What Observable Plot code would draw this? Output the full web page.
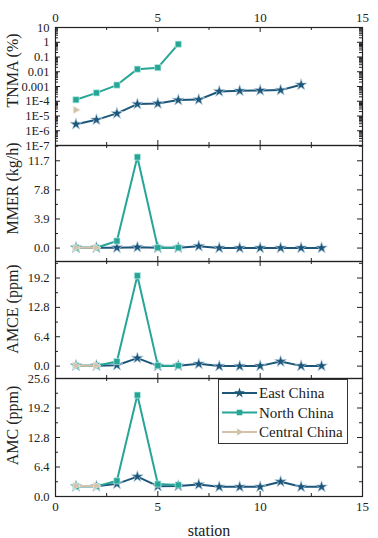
<!DOCTYPE html>
<html><head><meta charset="utf-8">
<script src="https://cdn.jsdelivr.net/npm/d3@7"></script>
<script src="https://cdn.jsdelivr.net/npm/@observablehq/plot@0.6"></script>
<style>
body{margin:0;background:#fff}
#chart{position:relative;width:378px;height:538px;overflow:hidden}
#chart svg{display:block;overflow:visible}
#chart svg, #chart svg text{font-family:"Liberation Serif","Times New Roman",serif !important}
#legend{position:absolute;left:218px;top:379px}
</style></head><body><div id="chart"></div>
<script>
// ---------- data ----------
const seriesNames = ["East China", "North China", "Central China"];
const seriesColors = ["#1c567a", "#27a597", "#d4c1aa"];

const stationsEast = [1, 2, 3, 4, 5, 6, 7, 8, 9, 10, 11, 12, 13];
const stationsNorth = [1, 2, 3, 4, 5, 6];
const stationsCentral = [1, 2];

const tnmaEast = [2.8e-6, 5.5e-6, 1.5e-5, 6.4e-5, 7e-5, 1.2e-4, 1.3e-4, 4.6e-4, 5.1e-4, 5.4e-4, 5.7e-4, 1.3e-3];
const tnmaNorth = [1.26e-4, 3.7e-4, 1.25e-3, 0.015, 0.019, 0.74];
const tnmaCentral = [2.6e-5];

const mmerEast = [0.05, 0.05, 0.05, 0.12, 0.05, 0.05, 0.25, 0.02, 0.02, 0.02, 0.02, 0.02, 0.02];
const mmerNorth = [0.05, 0.05, 0.95, 12.2, 0.05, 0.05];
const mmerCentral = [0.05, 0.05];

const amceEast = [0.1, 0.1, 0.2, 1.75, 0.05, 0.1, 0.5, 0.0, 0.0, 0.05, 1.0, 0.05, 0.05];
const amceNorth = [0.1, 0.1, 1.0, 19.7, 0.1, 0.1];
const amceCentral = [0.1, 0.1];

const amcEast = [2.2, 2.2, 2.75, 4.3, 2.25, 2.3, 2.6, 2.1, 2.1, 2.1, 3.2, 2.1, 2.1];
const amcNorth = [2.2, 2.2, 3.4, 22.0, 2.7, 2.5];
const amcCentral = [2.3, 2.3];

const xTicks = [0, 5, 10, 15];
const xMinorTicks = [2.5, 7.5, 12.5];
const tnmaTicks = [10, 1, 0.1, 0.01, 0.001, 1e-4, 1e-5, 1e-6, 1e-7];
const tnmaTickLabels = ["10", "1", "0.1", "0.01", "0.001", "1E-4", "1E-5", "1E-6", "1E-7"];
const mmerTicks = [0, 3.9, 7.8, 11.7];
const amceTicks = [0, 6.4, 12.8, 19.2];
const amcTicks = [0, 6.4, 12.8, 19.2, 25.6];
const yLabels = ["TNMA (%)", "MMER (kg/h)", "AMCE (ppm)", "AMC (ppm)"];
const xLabel = "station";

// ---------- helpers ----------
const FONT = "'Liberation Serif', 'Times New Roman', serif";
const W = 378, ML = 55, MR = 16, PW = W - ML - MR;
const triRight = {
  draw(ctx, size) {
    const r = Math.sqrt(size / Math.PI);
    ctx.moveTo(r * 1.25, 0);
    ctx.lineTo(-r * 0.75, -r * 1.05);
    ctx.lineTo(-r * 0.75, r * 1.05);
    ctx.closePath();
  }
};
const symbols = ["star", "square", triRight];
const dotR = [3.7, 3.5, 3.6];
const halo = ["#bcd3e2", "#bfeee6", "#f2ebe3"];

function rows(xs, ys) { return ys.map((v, i) => ({station: xs[i], value: v})); }

function seriesMarks(sets) {
  const m = [];
  sets.forEach((d, i) => {
    m.push(Plot.line(d, {x: "station", y: "value", stroke: seriesColors[i], strokeWidth: 2}));
    m.push(Plot.dot(d, {x: "station", y: "value", symbol: symbols[i], r: dotR[i], fill: seriesColors[i], stroke: halo[i], strokeWidth: 0.7}));
  });
  return m;
}

function inwardTicks(yMajor, yMinor, PH) {
  const s = "#222";
  return [
    Plot.tickY(yMajor, {y: d => d, insetRight: PW - 5, stroke: s}),
    Plot.tickY(yMajor, {y: d => d, insetLeft: PW - 5, stroke: s}),
    Plot.tickY(yMinor, {y: d => d, insetRight: PW - 3, stroke: s}),
    Plot.tickY(yMinor, {y: d => d, insetLeft: PW - 3, stroke: s}),
    Plot.tickX(xTicks, {x: d => d, insetBottom: PH - 5, stroke: s}),
    Plot.tickX(xTicks, {x: d => d, insetTop: PH - 5, stroke: s}),
    Plot.tickX(xMinorTicks, {x: d => d, insetBottom: PH - 3, stroke: s}),
    Plot.tickX(xMinorTicks, {x: d => d, insetTop: PH - 3, stroke: s})
  ];
}

function panel({height, marginTop = 0, marginBottom = 0, type = "linear", domain, ticks, minor, fmt, label, labelDy, top = false, bottom = false, sets}) {
  const PH = height - marginTop - marginBottom;
  const marks = [
    ...seriesMarks(sets),
    Plot.frame({stroke: "#222", strokeWidth: 1.2}),
    ...inwardTicks(ticks, minor, PH),
    Plot.axisY(ticks, {anchor: "left", tickSize: 0, tickPadding: 6, tickFormat: fmt, label: null, fontSize: 12.5}),
    Plot.text([label], {frameAnchor: "left", text: d => d, rotate: -90, textAnchor: "middle", lineAnchor: "middle", dx: -43, dy: labelDy, fontSize: 16, fill: "#222"})
  ];
  if (top) marks.push(Plot.axisX(xTicks, {anchor: "top", tickSize: 0, tickPadding: 6, label: null, fontSize: 13}));
  if (bottom) {
    marks.push(Plot.axisX(xTicks, {anchor: "bottom", tickSize: 0, tickPadding: 5, label: null, fontSize: 13}));
    marks.push(Plot.text([xLabel], {frameAnchor: "bottom", text: d => d, dy: 34, lineAnchor: "middle", fontSize: 16, fill: "#222"}));
  }
  return Plot.plot({
    width: W, height, marginLeft: ML, marginRight: MR, marginTop, marginBottom,
    style: {fontFamily: FONT, fontSize: "13px", color: "#222", background: "none", overflow: "visible"},
    x: {domain: [0, 15], label: null, ...(top || bottom ? {} : {axis: null})},
    y: {type, domain, label: null},
    marks
  });
}

// minor ticks
const logMinor = [];
for (let e = -7; e < 1; e++) for (let k = 2; k <= 9; k++) logMinor.push(k * Math.pow(10, e));
function halfMinor(ticks, lo, hi) {
  const step = ticks[1] - ticks[0];
  const out = [];
  for (let v = ticks[0] - step / 2; v <= hi + 1e-9; v += step) if (v >= lo && !ticks.some(t => Math.abs(t - v) < 1e-9)) out.push(+v.toFixed(3));
  return out;
}

const chart = document.getElementById("chart");
const fmt1 = d3.format(".1f");

chart.append(panel({
  height: 145, marginTop: 27, type: "log", domain: [1e-7, 10],
  ticks: tnmaTicks, minor: logMinor, fmt: d => tnmaTickLabels[tnmaTicks.indexOf(d)],
  label: yLabels[0], labelDy: -16, top: true,
  sets: [rows(stationsEast, tnmaEast), rows(stationsNorth, tnmaNorth), rows(stationsCentral, tnmaCentral)]
}));
const d2 = [-1.8, 13.75];
chart.append(panel({
  height: 116, domain: d2, ticks: mmerTicks, minor: halfMinor(mmerTicks, d2[0], d2[1]), fmt: fmt1,
  label: yLabels[1], labelDy: -15,
  sets: [rows(stationsEast, mmerEast), rows(stationsNorth, mmerNorth), rows(stationsCentral, mmerCentral)]
}));
const d3d = [-2.7, 22.8];
chart.append(panel({
  height: 117, domain: d3d, ticks: amceTicks, minor: halfMinor(amceTicks, d3d[0], d3d[1]), fmt: fmt1,
  label: yLabels[2], labelDy: -11,
  sets: [rows(stationsEast, amceEast), rows(stationsNorth, amceNorth), rows(stationsCentral, amceCentral)]
}));
const d4 = [0, 25.6];
chart.append(panel({
  height: 160, marginBottom: 42, domain: d4, ticks: amcTicks, minor: halfMinor(amcTicks, d4[0], d4[1]), fmt: fmt1,
  label: yLabels[3], labelDy: -12, bottom: true,
  sets: [rows(stationsEast, amcEast), rows(stationsNorth, amcNorth), rows(stationsCentral, amcCentral)]
}));

// legend
const lg = d3.select(chart).append("svg").attr("id", "legend").attr("width", 131).attr("height", 66);
lg.append("rect").attr("x", 0.5).attr("y", 0.5).attr("width", 129).attr("height", 64).attr("fill", "white").attr("stroke", "#333").attr("stroke-width", 1);
const symObjs = [d3.symbolStar, d3.symbolSquare, triRight];
seriesNames.forEach((name, i) => {
  const cy = 14 + i * 19.5;
  lg.append("line").attr("x1", 4).attr("x2", 39).attr("y1", cy).attr("y2", cy).attr("stroke", seriesColors[i]).attr("stroke-width", 2);
  lg.append("path").attr("transform", `translate(21.5,${cy})`).attr("d", d3.symbol(symObjs[i], Math.PI * dotR[i] * dotR[i] * 0.8)()).attr("fill", seriesColors[i]);
  lg.append("text").attr("x", 41).attr("y", cy).attr("dy", "0.35em").attr("font-size", "15px").attr("fill", "#222").text(name);
});
</script></body></html>
